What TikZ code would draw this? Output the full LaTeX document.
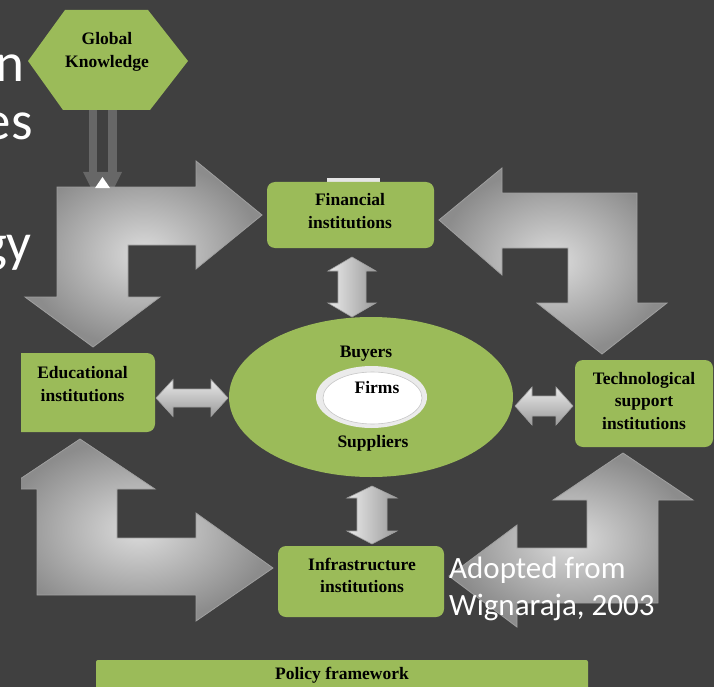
\documentclass[tikz,border=0pt]{standalone}
\usepackage{fontspec}
\setmainfont{Liberation Serif}
\newfontfamily\calib{Carlito}
\usetikzlibrary{shapes.geometric}
\definecolor{bg}{HTML}{404040}
\definecolor{olive}{HTML}{9BBB59}
\definecolor{stem}{HTML}{676767}
\definecolor{arrlight}{HTML}{DCDCDC}
\definecolor{arrdark}{HTML}{8C8C8C}
\definecolor{arredge}{HTML}{A0A0A0}
\definecolor{sarrlight}{HTML}{EAEAEA}
\definecolor{sarrdark}{HTML}{9A9A9A}
\tikzset{
  greenbox/.style={fill=olive, rounded corners=8pt, inner sep=0pt},
  lbl/.style={font=\bfseries\fontsize{17.5}{22.5}\selectfont, align=center, text=black, inner sep=0pt},
  bigarrow/.style={inner color=arrlight, outer color=arrdark, draw=arredge, line width=0.8pt},
  varrow/.style={left color=sarrlight, right color=sarrdark, draw=arredge, line width=0.6pt},
  harrow/.style={top color=sarrlight, bottom color=sarrdark, draw=arredge, line width=0.6pt},
  slidetext/.style={text=white, inner sep=0pt}
}
\begin{document}
\begin{tikzpicture}[x=1pt,y=-1pt]
\useasboundingbox (0,0) rectangle (714,687);
\fill[bg] (0,0) rectangle (714,687);
% slide text behind the diagram
\node[slidetext, anchor=base east, font=\calib\fontsize{55}{60}\selectfont] (sn) at (25,82) {n};
\node[slidetext, anchor=base east, font=\calib\fontsize{55}{60}\selectfont] (ses) at (33,140) {es};
\node[slidetext, anchor=base east, font=\calib\fontsize{55}{60}\selectfont] (sgy) at (32,261) {gy};
\begin{scope}
\clip (21,0) rectangle (714,687);
% global knowledge hexagon
\fill[olive] (28,61) -- (65,10) -- (148,10) -- (188,61) -- (150,110) -- (63,110) -- cycle;
\node[lbl] (glob) at (107,52) {Global\\Knowledge};
% double stem from global knowledge
\fill[stem] (89,110) rectangle (97,174);
\fill[stem] (108,110) rectangle (117,174);
\fill[stem] (83,172) -- (122,172) -- (114,188) -- (91,188) -- cycle;
% big bent arrows
\shade[bigarrow] (57,187) -- (196,187) -- (196,161) -- (262,215) -- (196,269) -- (196,245) -- (128,245) -- (128,297) -- (160,297) -- (93,347) -- (25,297) -- (57,297) -- cycle;
\fill[white] (95,188) -- (110,188) -- (102.5,177) -- cycle;
\shade[bigarrow] (439,220) -- (502,168) -- (502,193) -- (637,193) -- (637,303) -- (667,303) -- (602,354) -- (537,303) -- (568,303) -- (568,248) -- (502,248) -- (502,275) -- cycle;
\shade[bigarrow] (80,439) -- (155,489) -- (117,489) -- (117,538) -- (196,538) -- (196,513) -- (273,568) -- (196,621) -- (196,595) -- (37,595) -- (37,489) -- (5,489) -- cycle;
\shade[bigarrow] (623,453) -- (693,500) -- (658,500) -- (658,603) -- (517,603) -- (517,627) -- (449,576) -- (517,525) -- (517,548) -- (587,548) -- (587,500) -- (553,500) -- cycle;
% small double arrows
\shade[varrow] (352,257) -- (376,271) -- (366,271) -- (366,303) -- (376,303) -- (352,317) -- (328,303) -- (338,303) -- (338,271) -- (328,271) -- cycle;
\shade[varrow] (372,486) -- (397,498) -- (387,498) -- (387,531) -- (397,531) -- (372,544) -- (347,531) -- (357,531) -- (357,498) -- (347,498) -- cycle;
\shade[harrow] (156,398) -- (173,379.5) -- (173,389) -- (211,389) -- (211,379.5) -- (228,398) -- (211,416.5) -- (211,407) -- (173,407) -- (173,416.5) -- cycle;
\shade[harrow] (515,406) -- (532,387) -- (532,396) -- (556,396) -- (556,387) -- (573,406) -- (556,425) -- (556,416) -- (532,416) -- (532,425) -- cycle;
% boxes
\fill[white!80!gray] (327,178.5) rectangle (380,184);
\node[greenbox, minimum width=167pt, minimum height=66pt] (fin) at (350.5,215) {};
\node[lbl] at (350,211) {Financial\\institutions};
\node[greenbox, minimum width=145pt, minimum height=79pt] (edu) at (82.5,392.5) {};
\node[lbl] at (82.5,384) {Educational\\institutions};
\node[greenbox, minimum width=138pt, minimum height=87pt] (tech) at (644,403.5) {};
\node[lbl] at (644,401) {Technological\\support\\institutions};
\node[greenbox, minimum width=166pt, minimum height=71pt] (infra) at (361,581.5) {};
\node[lbl] at (362,575.5) {Infrastructure\\institutions};
\node[greenbox, rounded corners=2pt, minimum width=492pt, minimum height=44pt] (policy) at (342,682) {};
\node[lbl] at (342,675) {Policy framework};
% central ellipse
\node[ellipse, fill=olive, minimum width=284pt, minimum height=160pt, inner sep=0pt] (ell) at (371,397) {};
\node[ellipse, fill=white!84!gray, minimum width=111pt, minimum height=62pt, inner sep=0pt] (ring) at (371.5,397) {};
\node[ellipse, fill=white, draw=gray!45, line width=0.6pt, minimum width=99pt, minimum height=52pt, inner sep=0pt] (firms) at (372.5,398) {};
\node[lbl] at (366,354) {Buyers};
\node[lbl] at (377,388) {Firms};
\node[lbl] at (373,443) {Suppliers};
\end{scope}
% source note
\node[slidetext, anchor=base west, font=\calib\fontsize{31}{37}\selectfont] (src1) at (449,578) {Adopted from};
\node[slidetext, anchor=base west, font=\calib\fontsize{31}{37}\selectfont] (src2) at (449,615) {Wignaraja, 2003};
\end{tikzpicture}
\end{document}
